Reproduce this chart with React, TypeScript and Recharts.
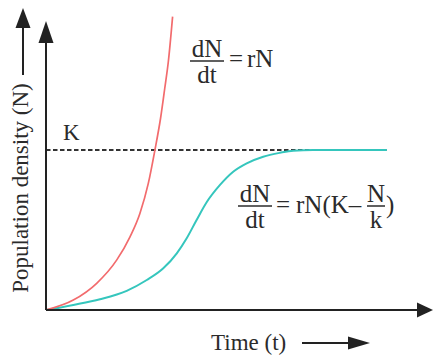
import { Line, LineChart, ReferenceLine, XAxis, YAxis } from "recharts";

// time (t) and population (N), in chart units
const exponentialTime = [0, 9.1, 16.9, 23.6, 28, 31.3, 34.1, 36.3, 38.2, 39.6, 40.8, 42.2];
const exponentialN = [0, 3.3, 8.9, 16.7, 24.4, 32.2, 42.2, 53.3, 64, 74, 83, 97.8];

const logisticTime = [0, 9.1, 18, 26.9, 33.6, 39.1, 43.6, 46.9, 50.2, 53.6, 58, 62.4, 66.9, 72.4, 78, 82.4, 89, 113.6];
const logisticN = [0, 1.7, 3.6, 6.4, 10, 13.9, 18.9, 23.9, 30, 36, 41.7, 46.1, 48.9, 51.1, 52.4, 53.1, 53.3, 53.3];

const carryingCapacity = 53.3;
const kLineEnd = 113.7;
const timeMax = 129;
const nMax = 100;
const yAxisTip = 96.3;

const exponential = exponentialTime.map((t, i) => ({ t, n: exponentialN[i] }));
const logistic = logisticTime.map((t, i) => ({ t, n: logisticN[i] }));

const INK = "#222";
const TEXT = "#2b2b2b";

// axis line with a filled arrowhead at its far end
function ArrowLine(props: any) {
  const { x1, y1, x2, y2 } = props;
  const len = Math.hypot(x2 - x1, y2 - y1) || 1;
  const ux = (x2 - x1) / len;
  const uy = (y2 - y1) / len;
  const head = props.head ?? 16;
  const half = props.half ?? 7.5;
  const bx = x2 - ux * head;
  const by = y2 - uy * head;
  const pts = `${x2},${y2} ${bx - uy * half},${by + ux * half} ${bx + uy * half},${by - ux * half}`;
  return (
    <g>
      <line x1={x1} y1={y1} x2={bx} y2={by} stroke={INK} strokeWidth={2} />
      <polygon points={pts} fill={INK} />
    </g>
  );
}

export default function App() {
  return (
    <div
      style={{
        position: "absolute",
        left: 0,
        top: 0,
        width: 434,
        height: 356,
        background: "#fff",
        fontFamily: "'Liberation Serif'",
      }}
    >
      <LineChart
        width={434}
        height={356}
        margin={{ top: 10, right: 1, bottom: 46, left: 46 }}
      >
        <XAxis type="number" dataKey="t" domain={[0, timeMax]} hide allowDataOverflow />
        <YAxis type="number" dataKey="n" domain={[0, nMax]} hide allowDataOverflow />
        <ReferenceLine
          segment={[{ x: 0, y: carryingCapacity }, { x: kLineEnd, y: carryingCapacity }]}
          stroke="#333"
          strokeWidth={2}
          strokeDasharray="4.5 2.5"
          ifOverflow="visible"
        />
        <Line
          data={logistic}
          dataKey="n"
          type="monotone"
          stroke="#35c6bd"
          strokeWidth={2}
          dot={false}
          activeDot={false}
          isAnimationActive={false}
        />
        <Line
          data={exponential}
          dataKey="n"
          type="monotone"
          stroke="#f26b6d"
          strokeWidth={1.7}
          dot={false}
          activeDot={false}
          isAnimationActive={false}
        />
        <ReferenceLine
          segment={[{ x: 0, y: 0 }, { x: 0, y: yAxisTip }]}
          ifOverflow="visible"
          shape={(p: any) => <ArrowLine {...p} head={22} half={7.5} />}
        />
        <ReferenceLine
          segment={[{ x: 0, y: 0 }, { x: timeMax, y: 0 }]}
          ifOverflow="visible"
          shape={(p: any) => <ArrowLine {...p} head={16} half={7.5} />}
        />
      </LineChart>

      <svg
        width={434}
        height={356}
        fontFamily="Liberation Serif"
        style={{ position: "absolute", left: 0, top: 0, pointerEvents: "none" }}
      >
        <g fill={TEXT} fontFamily="Liberation Serif">
          <text x={63} y={140} fontSize={23} fontFamily="Liberation Serif">K</text>

          <text x={207} y={57} fontSize={25} textAnchor="middle" fontFamily="Liberation Serif">dN</text>
          <line x1={190} x2={224} y1={61} y2={61} stroke={TEXT} strokeWidth={1.5} />
          <text x={207} y={83} fontSize={25} textAnchor="middle" fontFamily="Liberation Serif">dt</text>
          <text x={229} y={67} fontSize={25} fontFamily="Liberation Serif">=</text>
          <text x={247} y={67} fontSize={25} fontFamily="Liberation Serif">rN</text>

          <text x={255} y={202} fontSize={25} textAnchor="middle" fontFamily="Liberation Serif">dN</text>
          <line x1={238} x2={272} y1={206} y2={206} stroke={TEXT} strokeWidth={1.5} />
          <text x={255} y={228} fontSize={25} textAnchor="middle" fontFamily="Liberation Serif">dt</text>
          <text x={276} y={213} fontSize={25} fontFamily="Liberation Serif">=</text>
          <text x={296} y={213} fontSize={25} fontFamily="Liberation Serif">rN(K–</text>
          <text x={376} y={202} fontSize={25} textAnchor="middle" fontFamily="Liberation Serif">N</text>
          <line x1={367} x2={385} y1={206} y2={206} stroke={TEXT} strokeWidth={1.5} />
          <text x={376} y={228} fontSize={25} textAnchor="middle" fontFamily="Liberation Serif">k</text>
          <text x={386} y={213} fontSize={25} fontFamily="Liberation Serif">)</text>

          <text
            x={28}
            y={188}
            fontSize={23}
            textAnchor="middle"
            transform="rotate(-90 28 188)"
            fontFamily="Liberation Serif"
          >
            Population density (N)
          </text>
          <text x={211} y={350} fontSize={23} fontFamily="Liberation Serif">Time (t)</text>
        </g>
        <ArrowLine x1={23} y1={75} x2={23} y2={8} head={20} half={7.5} />
        <ArrowLine x1={302} y1={343} x2={370} y2={343} head={22} half={6.5} />
      </svg>
    </div>
  );
}
